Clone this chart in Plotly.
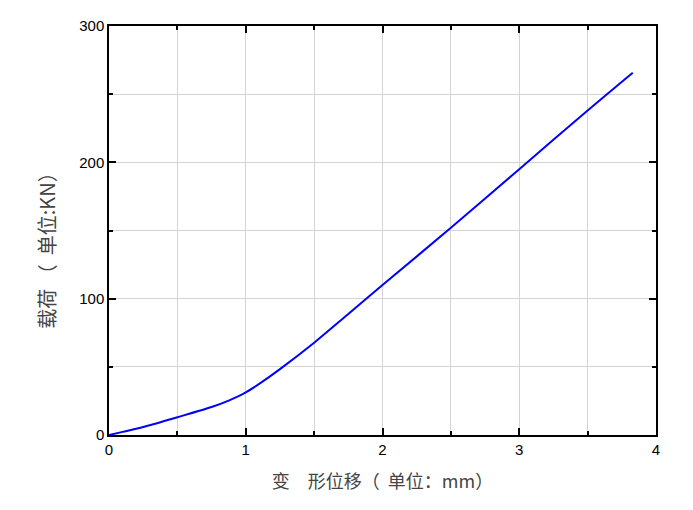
import plotly.graph_objects as go

# displacement (mm) and load (kN)
displacement = [0, 0.1, 0.25, 0.5, 0.75, 0.875, 1.0, 1.125, 1.25, 1.5, 1.75, 2.0, 2.5, 3.0, 3.5, 3.83]
load = [0, 2.3, 5.8, 13.0, 20.5, 25.2, 31.2, 39.3, 48.3, 67.7, 88.8, 110.0, 152.0, 195.0, 238.0, 265.7]

x_ticks = [0, 1, 2, 3, 4]
y_ticks = [0, 100, 200, 300]

fig = go.Figure(go.Scatter(x=displacement, y=load, mode="lines",
                           line=dict(color="#0000ff", width=2, shape="spline", smoothing=0.8)))

axis_style = dict(showline=True, linecolor="black", linewidth=1.5, mirror="ticks",
                  ticks="inside", ticklen=7, tickwidth=1.5, tickcolor="black",
                  showgrid=True, gridcolor="#d4d4d4", gridwidth=1, zeroline=False,
                  automargin=False,
                  tickfont=dict(family="Liberation Sans, Arial", size=15, color="black"))

fig.update_xaxes(range=[0, 4], tickvals=x_ticks,
                 minor=dict(dtick=0.5, ticks="inside", ticklen=4, tickcolor="black",
                            showgrid=True, gridcolor="#d4d4d4"),
                 title=dict(text="变\u3000形位移（\u00a0\u00a0单位：mm）", standoff=19,
                            font=dict(family="Noto Sans CJK SC", size=18, color="#444")),
                 **axis_style)
# trailing blanks (kept by a zero-width char) push the title a little towards the bottom
fig.update_yaxes(range=[0, 300], tickvals=y_ticks,
                 minor=dict(dtick=50, ticks="inside", ticklen=4, tickcolor="black",
                            showgrid=True, gridcolor="#d4d4d4"),
                 title=dict(text="载荷 （\u00a0\u00a0单位:KN）\u3000\u3000\u200b", standoff=18,
                            font=dict(family="Noto Sans CJK SC", size=20, color="#444")),
                 **axis_style)

# the page body adds an 8px offset, so the margins are shifted to compensate
fig.update_layout(width=693, height=510, showlegend=False,
                  plot_bgcolor="white", paper_bgcolor="white",
                  margin=dict(l=101, r=45, t=18, b=83))

fig.write_html("out.html")
